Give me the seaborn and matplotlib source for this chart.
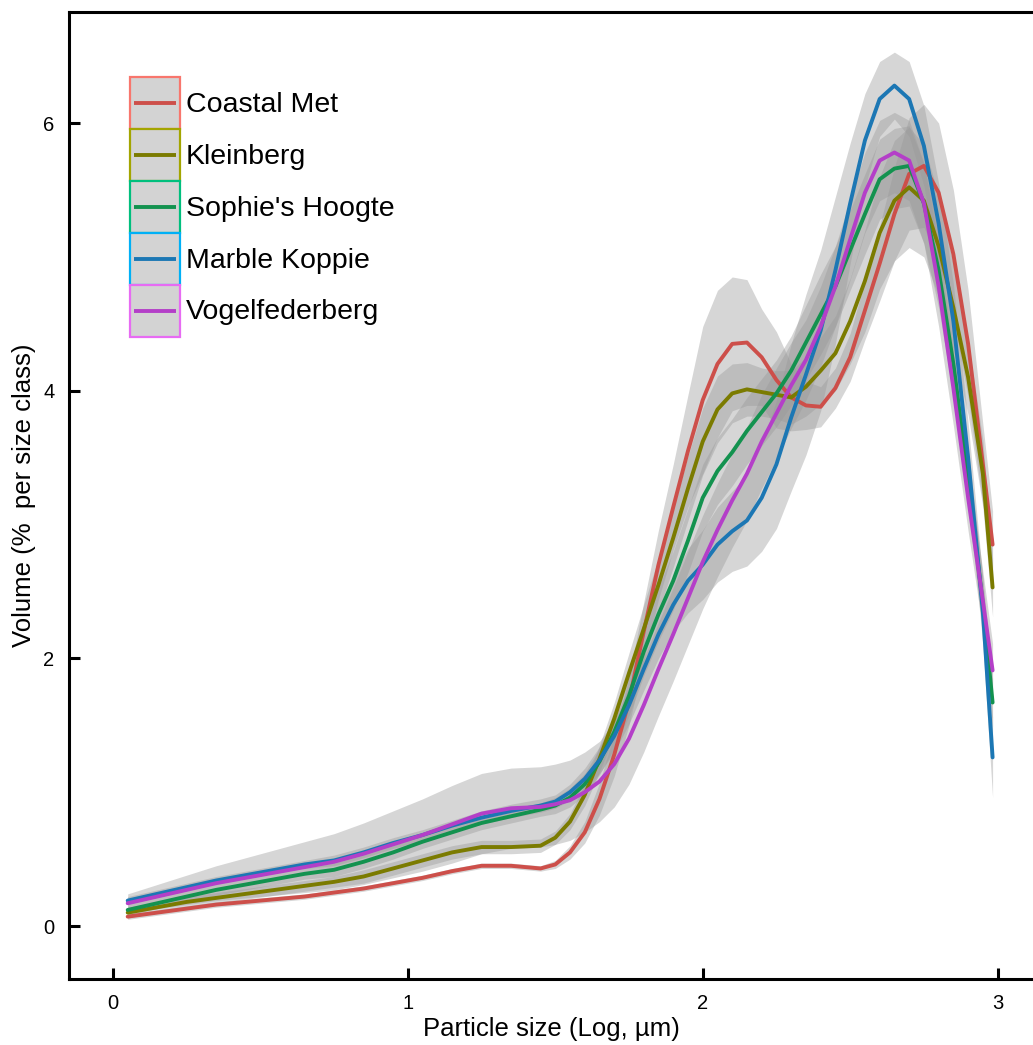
import matplotlib
matplotlib.use("Agg")
import matplotlib.pyplot as plt
from matplotlib.legend_handler import HandlerBase
from matplotlib.patches import Rectangle
from matplotlib.lines import Line2D
import pandas as pd
import seaborn as sns

# Log particle size classes
log_size = [0.05, 0.15, 0.25, 0.35, 0.45, 0.55, 0.65, 0.75, 0.85, 0.95,
            1.05, 1.15, 1.25, 1.35, 1.45, 1.50, 1.55, 1.60, 1.65, 1.70,
            1.75, 1.80, 1.85, 1.90, 1.95, 2.00, 2.05, 2.10, 2.15, 2.20,
            2.25, 2.30, 2.35, 2.40, 2.45, 2.50, 2.55, 2.60, 2.65, 2.70,
            2.75, 2.80, 2.85, 2.90, 2.95, 2.983]

sites = ["Coastal Met", "Kleinberg", "Sophie's Hoogte", "Marble Koppie", "Vogelfederberg"]

# Smoothed volume (%) per size class
coastal_met = [0.07, 0.10, 0.13, 0.16, 0.18, 0.20, 0.22, 0.25, 0.28, 0.32,
               0.36, 0.41, 0.45, 0.45, 0.43, 0.46, 0.55, 0.70, 0.95, 1.28,
               1.68, 2.20, 2.70, 3.13, 3.55, 3.93, 4.20, 4.35, 4.36, 4.25,
               4.08, 3.95, 3.89, 3.88, 4.02, 4.25, 4.60, 4.95, 5.32, 5.62,
               5.68, 5.48, 5.02, 4.35, 3.45, 2.85]
kleinberg = [0.10, 0.14, 0.18, 0.21, 0.24, 0.27, 0.30, 0.33, 0.37, 0.43,
             0.49, 0.55, 0.59, 0.59, 0.60, 0.66, 0.78, 0.98, 1.25, 1.55,
             1.89, 2.22, 2.55, 2.90, 3.27, 3.62, 3.86, 3.98, 4.01, 3.99,
             3.97, 3.95, 4.03, 4.15, 4.28, 4.52, 4.82, 5.18, 5.42, 5.52,
             5.42, 5.08, 4.62, 4.10, 3.38, 2.53]
sophies_hoogte = [0.12, 0.17, 0.22, 0.27, 0.31, 0.35, 0.39, 0.42, 0.48, 0.55,
                  0.63, 0.70, 0.77, 0.82, 0.87, 0.90, 0.96, 1.06, 1.23, 1.45,
                  1.72, 2.05, 2.33, 2.58, 2.88, 3.20, 3.40, 3.54, 3.70, 3.84,
                  3.98, 4.15, 4.36, 4.57, 4.78, 5.05, 5.32, 5.58, 5.66, 5.68,
                  5.40, 4.90, 4.20, 3.35, 2.40, 1.67]
marble_koppie = [0.19, 0.24, 0.29, 0.34, 0.38, 0.42, 0.46, 0.49, 0.55, 0.62,
                 0.68, 0.75, 0.81, 0.86, 0.90, 0.93, 1.00, 1.10, 1.24, 1.42,
                 1.65, 1.92, 2.18, 2.40, 2.58, 2.70, 2.85, 2.95, 3.03, 3.20,
                 3.45, 3.80, 4.12, 4.45, 4.90, 5.40, 5.87, 6.18, 6.28, 6.18,
                 5.83, 5.25, 4.52, 3.50, 2.35, 1.26]
vogelfederberg = [0.17, 0.22, 0.27, 0.32, 0.36, 0.40, 0.44, 0.48, 0.54, 0.61,
                  0.68, 0.76, 0.84, 0.88, 0.89, 0.91, 0.94, 1.00, 1.08, 1.21,
                  1.40, 1.65, 1.92, 2.18, 2.45, 2.72, 2.96, 3.18, 3.38, 3.62,
                  3.83, 4.04, 4.23, 4.48, 4.78, 5.13, 5.48, 5.72, 5.78, 5.72,
                  5.40, 4.78, 4.02, 3.20, 2.43, 1.91]

# Half-width of the confidence band around each smooth
coastal_met_ci = [0.02, 0.02, 0.02, 0.02, 0.02, 0.02, 0.02, 0.02, 0.02, 0.02,
                  0.02, 0.02, 0.02, 0.02, 0.02, 0.03, 0.05, 0.08, 0.12, 0.16,
                  0.18, 0.22, 0.26, 0.32, 0.42, 0.55, 0.55, 0.50, 0.47, 0.36,
                  0.36, 0.25, 0.18, 0.15, 0.15, 0.18, 0.22, 0.28, 0.35, 0.42,
                  0.46, 0.52, 0.48, 0.40, 0.30, 0.25]
kleinberg_ci = [0.04, 0.04, 0.04, 0.04, 0.04, 0.04, 0.04, 0.04, 0.05, 0.05,
                0.05, 0.05, 0.05, 0.05, 0.05, 0.05, 0.06, 0.08, 0.10, 0.12,
                0.15, 0.18, 0.20, 0.22, 0.24, 0.25, 0.25, 0.22, 0.20, 0.18,
                0.18, 0.20, 0.22, 0.25, 0.28, 0.32, 0.38, 0.42, 0.45, 0.45,
                0.42, 0.38, 0.32, 0.28, 0.25, 0.22]
sophies_hoogte_ci = [0.04, 0.04, 0.04, 0.04, 0.04, 0.04, 0.04, 0.05, 0.05, 0.05,
                     0.05, 0.05, 0.05, 0.05, 0.05, 0.06, 0.07, 0.08, 0.10, 0.12,
                     0.15, 0.18, 0.20, 0.22, 0.24, 0.25, 0.25, 0.25, 0.25, 0.25,
                     0.25, 0.26, 0.28, 0.30, 0.30, 0.30, 0.30, 0.30, 0.30, 0.30,
                     0.30, 0.28, 0.25, 0.22, 0.20, 0.18]
marble_koppie_ci = [0.03, 0.03, 0.03, 0.03, 0.03, 0.03, 0.03, 0.04, 0.04, 0.04,
                    0.04, 0.04, 0.05, 0.05, 0.05, 0.05, 0.06, 0.08, 0.10, 0.12,
                    0.14, 0.16, 0.18, 0.20, 0.24, 0.26, 0.28, 0.30, 0.34, 0.40,
                    0.48, 0.55, 0.60, 0.60, 0.55, 0.45, 0.35, 0.28, 0.25, 0.28,
                    0.30, 0.30, 0.28, 0.26, 0.25, 0.30]
vogelfederberg_ci = [0.07, 0.09, 0.11, 0.13, 0.15, 0.17, 0.19, 0.21, 0.23, 0.25,
                     0.27, 0.29, 0.30, 0.30, 0.30, 0.30, 0.30, 0.30, 0.30, 0.32,
                     0.34, 0.35, 0.35, 0.35, 0.35, 0.35, 0.35, 0.35, 0.35, 0.35,
                     0.34, 0.32, 0.30, 0.30, 0.30, 0.30, 0.30, 0.30, 0.30, 0.30,
                     0.30, 0.30, 0.28, 0.25, 0.22, 0.20]

volumes = [coastal_met, kleinberg, sophies_hoogte, marble_koppie, vogelfederberg]
bands = [coastal_met_ci, kleinberg_ci, sophies_hoogte_ci, marble_koppie_ci, vogelfederberg_ci]

line_colors = ["#CD4F4A", "#7B7B00", "#13924F", "#1C77B4", "#B43FC8"]
key_colors = ["#F8766D", "#A3A500", "#00BF7D", "#00B0F6", "#E76BF3"]

df = pd.concat(
    [pd.DataFrame({"log_size": log_size, "volume": v, "ci": c, "site": s})
     for s, v, c in zip(sites, volumes, bands)],
    ignore_index=True,
)

sns.set_theme(style="white")
sans = ["Liberation Sans", "DejaVu Sans"]
plt.rcParams["font.family"] = sans
plt.rcParams["text.color"] = "black"
plt.rcParams["axes.labelcolor"] = "black"

fig = plt.figure(figsize=(10.33, 10.45), dpi=100)
left, right, bottom, top = 69, 1033, 979, 12
W, H = 1033, 1045
ax = fig.add_axes([left / W, (H - bottom) / H, (right - left) / W, (bottom - top) / H])

LW = 2.8
for site, col in zip(sites, line_colors):
    sub = df[df["site"] == site]
    ax.fill_between(sub["log_size"], sub["volume"] - sub["ci"], sub["volume"] + sub["ci"],
                    color="#999999", alpha=0.4, lw=0, zorder=2)
    sns.lineplot(data=sub, x="log_size", y="volume", color=col, lw=LW,
                 ax=ax, zorder=3, legend=False)

ax.set_xlim(-0.149, 3.12)
ax.set_ylim(-0.396, 6.83)
ax.set_xticks([0, 1, 2, 3])
ax.set_yticks([0, 2, 4, 6])
ax.set_xticklabels(["0", "1", "2", "3"])
ax.set_yticklabels(["0", "2", "4", "6"])

for side in ["left", "bottom", "top"]:
    ax.spines[side].set_visible(True)
    ax.spines[side].set_color("black")
    ax.spines[side].set_linewidth(2.2)
ax.spines["right"].set_visible(False)

ax.tick_params(axis="both", direction="in", length=8, width=2.2, color="black",
               labelsize=14.5, labelcolor="black", pad=10.5,
               bottom=True, left=True, top=False, right=False)

ax.set_xlabel("Particle size (Log, µm)", fontsize=18.5, labelpad=3, color="black")
ax.set_ylabel("Volume (%  per size class)", fontsize=18.5, labelpad=5, color="black")


class KeyHandler(HandlerBase):
    def __init__(self, line_color, edge_color):
        super().__init__()
        self.line_color = line_color
        self.edge_color = edge_color

    def create_artists(self, legend, orig_handle, xdescent, ydescent, width, height,
                       fontsize, trans):
        rect = Rectangle((-xdescent, -ydescent), width, height, facecolor="#D3D3D3",
                         edgecolor=self.edge_color, lw=1.6, transform=trans)
        y = -ydescent + height / 2
        line = Line2D([-xdescent + 0.08 * width, -xdescent + 0.92 * width], [y, y],
                      color=self.line_color, lw=LW, solid_capstyle="butt", transform=trans)
        return [rect, line]


handles = [Line2D([], [], color=c) for c in line_colors]
handler_map = {h: KeyHandler(lc, kc) for h, lc, kc in zip(handles, line_colors, key_colors)}
leg = ax.legend(handles, sites, handler_map=handler_map, loc="upper left",
                bbox_to_anchor=((130 - left) / (right - left), (bottom - 77) / (bottom - top)),
                frameon=False, borderpad=0, borderaxespad=0, labelspacing=0,
                handlelength=1.76, handleheight=2.43, handletextpad=0.2,
                prop={"family": sans, "size": 20.5})
for txt in leg.get_texts():
    txt.set_color("black")

fig.savefig("out.png", dpi=100, facecolor="white")
